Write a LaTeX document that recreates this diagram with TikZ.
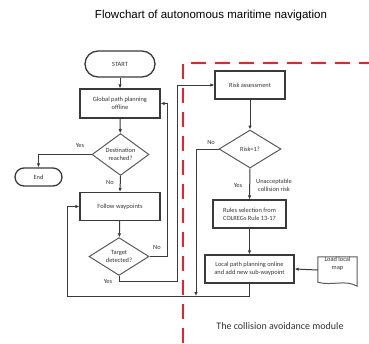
\documentclass[tikz,border=0pt]{standalone}
\usepackage{fontspec}
\setmainfont{Carlito}
\newfontfamily\titlefont{Liberation Sans}
\usetikzlibrary{shapes.geometric,arrows.meta}
\definecolor{lc}{HTML}{3A3A3A}
\definecolor{dc}{HTML}{5A5A5A}
\definecolor{tc}{HTML}{333333}
\definecolor{rc}{HTML}{EE2030}
\tikzset{
  box/.style={draw=lc,line width=1.3pt,rectangle,align=center,font=\fontsize{6.4}{7.6}\selectfont,text=tc,inner sep=0pt},
  term/.style={box,rounded corners=#1},
  dec/.style={draw=dc,line width=1pt,diamond,align=center,font=\fontsize{6.4}{7.6}\selectfont,text=tc,inner sep=0pt},
  conn/.style={draw=lc,line width=1pt,-{Latex[length=4pt,width=3.5pt]}},
  lab/.style={font=\fontsize{6.4}{7.6}\selectfont,text=tc,align=center},
  redd/.style={draw=rc,line width=2.5pt,dash pattern=on 15pt off 9pt}
}
\begin{document}
\begin{tikzpicture}[x=1pt,y=-1pt]
\useasboundingbox (0,0) rectangle (369,343);
\node[font=\titlefont\fontsize{11.5}{13}\selectfont,text=black] (title) at (211,16) {Flowchart of autonomous maritime navigation};
% red dashed module border
\draw[redd] (183,343) -- (183,63) -- (369,63);
% left column
\node[term=13pt,minimum width=70pt,minimum height=26pt] (start) at (120,64) {START};
\node[box,minimum width=80pt,minimum height=29pt] (global) at (120,103.5) {Global path planning\\offline};
\node[dec,minimum width=57pt,minimum height=35pt] (dest) at (120.5,154.5) {Destination\\reached?};
\node[term=9pt,minimum width=47pt,minimum height=18pt] (end) at (38.5,177) {End};
\node[box,minimum width=80pt,minimum height=28pt] (follow) at (120,206.5) {Follow waypoints};
\node[dec,minimum width=60pt,minimum height=35pt] (target) at (119,256.5) {Target\\detected?};
% right column
\node[box,minimum width=70pt,minimum height=28pt] (risk) at (250,85) {Risk assessment};
\node[dec,minimum width=62pt,minimum height=38pt] (riskq) at (250,149) {Risk=1?};
\node[box,minimum width=73pt,minimum height=28pt] (rules) at (249.5,214) {Rules selection from\\COLREGs Rule 13-17};
\node[box,minimum width=89pt,minimum height=28pt] (local) at (249.5,269) {Local path planning online\\and add new sub-waypoint};
\node[inner sep=0pt,minimum width=39pt,minimum height=26pt] (map) at (337.5,270) {};
\draw[dc,line width=1pt] (map.north west) -- (map.north east) -- ([yshift=-3pt]map.south east)
  .. controls ++(-12,-7) and ++(14,4) .. ([yshift=1pt]map.south west) -- cycle;
\node[lab] (maplab) at (337.5,264) {Load local\\map};
\node[font=\fontsize{10}{12}\selectfont,text=tc] (modlab) at (280,326) {The collision avoidance module};
% coordinates
\coordinate (cyes) at (177,281);
\coordinate (cno) at (196,296);
\coordinate (cbot) at (67,296);
% connectors
\draw[conn] (start) -- (global);
\draw[conn] (global) -- (dest);
\draw[conn] (dest.west) -| (end.north);
\draw[conn] (dest.south) -- (follow.north);
\draw[conn] (follow) -- (target);
\draw[conn] (target.east) -- ++(18,0) |- (global.east);
\draw[conn] (target.south) |- (cyes) |- (risk.west);
\draw[conn] (risk) -- (riskq);
\draw[conn] (riskq.west) -| (cno);
\draw[conn] (riskq.south) -- (rules.north);
\draw[conn] (rules) -- (local);
\draw[conn] (map.west) -- (local.east);
\draw[conn] (local.south) |- (cbot) |- (follow.west);
% labels
\node[lab] at (80,145) {Yes};
\node[lab] at (110,182) {No};
\node[lab] at (157,247) {No};
\node[lab] at (108,281) {Yes};
\node[lab] at (211,142) {No};
\node[lab] at (238,185) {Yes};
\node[lab] at (274,185) {Unacceptable\\collision risk};
\end{tikzpicture}
\end{document}
